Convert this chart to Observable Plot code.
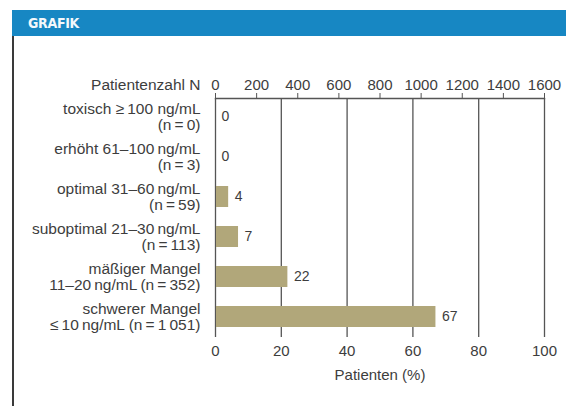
<!DOCTYPE html>
<html>
<head>
<meta charset="utf-8">
<script src="https://cdn.jsdelivr.net/npm/d3@7"></script>
<script src="https://cdn.jsdelivr.net/npm/@observablehq/plot@0.6"></script>
<style>
  html, body { margin: 0; padding: 0; background: #fff; width: 566px; height: 406px; overflow: hidden; }
  #header { position: absolute; left: 12px; top: 10px; width: 554px; height: 26px; background: #1787c3; }
  #header span { position: absolute; left: 16px; top: 5px; display: block; height: 16px; line-height: 16px; color: #f4f8fb; font-family: "DejaVu Sans Condensed", "Liberation Sans Narrow", Arial, sans-serif; font-weight: bold; font-size: 14px; letter-spacing: -0.3px; }
  #border { position: absolute; left: 12px; top: 36px; width: 2px; height: 370px; background: #3a3a3a; }
  #chart { position: absolute; left: 0; top: 36px; }
</style>
</head>
<body>
<div id="header"><span>GRAFIK</span></div>
<div id="border"></div>
<div id="chart"></div>
<script>
const categories = [
  "toxisch \u2265\u2009100 ng/mL\n(n\u2009=\u20090)",
  "erhöht 61–100\u2009ng/mL\n(n\u2009=\u20093)",
  "optimal 31–60\u2009ng/mL\n(n\u2009=\u200959)",
  "suboptimal 21–30\u2009ng/mL\n(n\u2009=\u2009113)",
  "mäßiger Mangel\n11–20\u2009ng/mL\u2009(n\u2009=\u2009352)",
  "schwerer Mangel\n\u2264\u200910\u2009ng/mL (n\u2009=\u20091\u2009051)"
];
const percents = [0, 0, 4, 7, 22, 67];
const percentTicks = [0, 20, 40, 60, 80, 100];
const patientTicks = [0, 200, 400, 600, 800, 1000, 1200, 1400, 1600];
const patientMax = 1600;

const data = categories.map((c, i) => ({category: c, value: percents[i]}));
const toPct = n => n / patientMax * 100;

const chart = Plot.plot({
  width: 566,
  height: 370,
  marginLeft: 215,
  marginRight: 22,
  marginTop: 62,
  marginBottom: 69,
  style: {fontFamily: "'Liberation Sans', Arial, sans-serif", fontSize: "15px", color: "#3d3d3d", background: "transparent"},
  x: {domain: [0, 100]},
  y: {domain: categories, paddingInner: 0.48, paddingOuter: 0.24, insetTop: -3.4, insetBottom: -1.8},
  marks: [
    Plot.ruleX(percentTicks, {stroke: "#555", strokeWidth: 1.3}),
    Plot.frame({anchor: "top", stroke: "#555", strokeWidth: 1.3}),
    Plot.barX(data, {x: "value", y: "category", fill: "#b1a77a", insetLeft: 1}),
    Plot.text(data, {x: "value", y: "category", text: d => String(d.value), textAnchor: "start", dx: 6, fill: "#3d3d3d", fontSize: 14}),
    Plot.axisX(patientTicks.map(toPct), {anchor: "top", tickFormat: d => String(Math.round(d * patientMax / 100)), tickSize: 6, tickPadding: 3, stroke: "#555", label: null, fontSize: 15}),
    Plot.text(["Patientenzahl N"], {frameAnchor: "top-left", textAnchor: "end", dx: -15, dy: -20, fill: "#3d3d3d", fontSize: 15.5}),
    Plot.axisX(percentTicks, {anchor: "bottom", tickSize: 0, tickPadding: 8, label: "Patienten (%)", labelAnchor: "center", labelOffset: 42, labelArrow: "none", fontSize: 15}),
    Plot.axisY({tickSize: 0, tickPadding: 15, label: null, lineHeight: 1.05, fontSize: 15.5})
  ]
});
document.getElementById("chart").appendChild(chart);
</script>
</body>
</html>
